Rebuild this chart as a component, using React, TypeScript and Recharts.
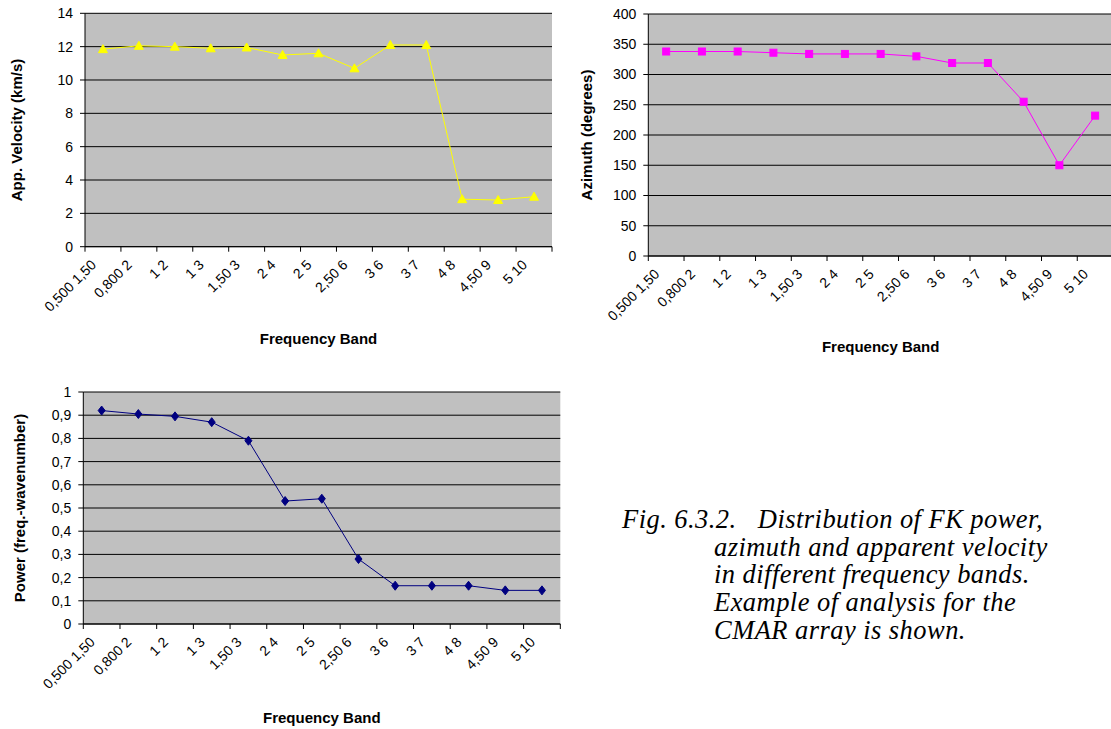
import React from "react";
import { CartesianGrid, Line, LineChart, XAxis, YAxis } from "recharts";

const bands = ["0,500 1,50", "0,800 2", "1 2", "1 3", "1,50 3", "2 4", "2 5", "2,50 6", "3 6", "3 7", "4 8", "4,50 9", "5 10"];
const velocity = [11.85, 12.05, 12.0, 11.9, 11.95, 11.5, 11.6, 10.7, 12.1, 12.1, 2.85, 2.8, 3.0];
const azimuth = [338, 338, 338, 336, 334, 334, 334, 330, 319, 319, 255, 150, 232];
const power = [0.92, 0.905, 0.895, 0.87, 0.79, 0.53, 0.54, 0.28, 0.165, 0.165, 0.165, 0.145, 0.145];

const velocityTicks = [0, 2, 4, 6, 8, 10, 12, 14];
const azimuthTicks = [0, 50, 100, 150, 200, 250, 300, 350, 400];
const powerTicks = [0, 0.1, 0.2, 0.3, 0.4, 0.5, 0.6, 0.7, 0.8, 0.9, 1];

const captionLines = [
  "Fig. 6.3.2.   Distribution of FK power,",
  "azimuth and apparent velocity",
  "in different frequency bands.",
  "Example of analysis for the",
  "CMAR array is shown.",
];

const data = bands.map((band, i) => ({ band, velocity: velocity[i], azimuth: azimuth[i], power: power[i] }));

const SANS = '"Liberation Sans", Arial, sans-serif';
const TICK_LEN = 5;

// category ticks sit on the band edges (Excel style), labels at band centres
function BandTick(props: any) {
  const { x, y, payload, index, band } = props;
  const axisY = y - TICK_LEN;
  return (
    <g>
      {index === 0 && <line x1={x - band / 2} y1={axisY} x2={x - band / 2} y2={axisY + TICK_LEN} stroke="#000" />}
      <line x1={x + band / 2} y1={axisY} x2={x + band / 2} y2={axisY + TICK_LEN} stroke="#000" />
      <text
        transform={`translate(${x - 6},${y + 14}) rotate(-45)`}
        textAnchor="end"
        fontSize={14}
        fontFamily={SANS}
        fill="#000"
      >
        {payload.value}
      </text>
    </g>
  );
}

function Marker({ cx, cy, shape, color }: any) {
  if (cx == null || cy == null) return null;
  if (shape === "triangle") {
    return <polygon points={`${cx},${cy - 4.5} ${cx + 4.5},${cy + 3.5} ${cx - 4.5},${cy + 3.5}`} fill={color} stroke={color} />;
  }
  if (shape === "square") {
    return <rect x={cx - 3.5} y={cy - 3.5} width={7} height={7} fill={color} stroke={color} />;
  }
  return <polygon points={`${cx},${cy - 4.5} ${cx + 3.5},${cy} ${cx},${cy + 4.5} ${cx - 3.5},${cy}`} fill={color} stroke={color} />;
}

type PanelProps = {
  w: number;
  h: number;
  plot: { l: number; t: number; r: number; b: number };
  dataKey: string;
  color: string;
  shape: string;
  ticks: number[];
  yLabel: string;
  yTitleX: number;
  xTitleBase: number;
  fmt?: (v: number) => string;
};

function Panel({ w, h, plot, dataKey, color, shape, ticks, yLabel, yTitleX, xTitleBase, fmt }: PanelProps) {
  const xh = 110;
  const band = (plot.r - plot.l) / bands.length;
  const margin = { top: plot.t, left: 0, right: w - plot.r, bottom: h - plot.b - xh };
  return (
    <LineChart width={w} height={h} data={data} margin={margin}>
      <CartesianGrid vertical={false} stroke="#000" fill="#c0c0c0" fillOpacity={1} />
      <XAxis
        dataKey="band"
        scale="point"
        interval={0}
        height={xh}
        padding={{ left: band / 2, right: band / 2 }}
        tickSize={TICK_LEN}
        tickMargin={0}
        tickLine={false}
        axisLine={{ stroke: "#000" }}
        tick={(p: any) => <BandTick {...p} band={band} />}
        label={{
          value: "Frequency Band",
          position: "insideBottom",
          offset: plot.b + xh - xTitleBase,
          style: { fontWeight: 700, fontSize: 15, fontFamily: SANS, fill: "#000" },
        }}
      />
      <XAxis xAxisId="top" dataKey="band" orientation="top" height={0} tick={false} tickLine={false} axisLine={{ stroke: "#808080" }} />
      <YAxis
        width={plot.l}
        domain={[ticks[0], ticks[ticks.length - 1]]}
        ticks={ticks}
        interval={0}
        tickSize={TICK_LEN}
        tickMargin={7}
        tickFormatter={fmt}
        tick={{ fontSize: 14, fontFamily: SANS, fill: "#000" }}
        tickLine={{ stroke: "#000" }}
        axisLine={{ stroke: "#000" }}
        label={{
          value: yLabel,
          angle: -90,
          position: "insideLeft",
          offset: yTitleX,
          style: { textAnchor: "middle", fontWeight: 700, fontSize: 15, fontFamily: SANS, fill: "#000" },
        }}
      />
      <YAxis yAxisId="right" orientation="right" width={0} tick={false} tickLine={false} axisLine={{ stroke: "#808080" }} />
      <Line
        type="linear"
        dataKey={dataKey}
        stroke={color}
        strokeWidth={1}
        isAnimationActive={false}
        activeDot={false}
        dot={(p: any) => <Marker key={p.index} cx={p.cx} cy={p.cy} shape={shape} color={color} />}
      />
    </LineChart>
  );
}

export default function App() {
  return (
    <div style={{ position: "fixed", left: 0, top: 0, width: 1111, height: 729, overflow: "hidden", background: "#fff" }}>
      <div style={{ position: "absolute", left: 0, top: 0 }}>
        <Panel
          w={560}
          h={360}
          plot={{ l: 85, t: 13.3, r: 552, b: 246.7 }}
          dataKey="velocity"
          color="#ffff00"
          shape="triangle"
          ticks={velocityTicks}
          yLabel="App. Velocity (km/s)"
          yTitleX={17}
          xTitleBase={344}
        />
      </div>
      <div style={{ position: "absolute", left: 560, top: 0 }}>
        <Panel
          w={560}
          h={360}
          plot={{ l: 88.3, t: 14, r: 553, b: 256 }}
          dataKey="azimuth"
          color="#ff00ff"
          shape="square"
          ticks={azimuthTicks}
          yLabel="Azimuth (degrees)"
          yTitleX={27}
          xTitleBase={351.5}
        />
      </div>
      <div style={{ position: "absolute", left: 0, top: 370 }}>
        <Panel
          w={580}
          h={359}
          plot={{ l: 83.3, t: 22, r: 560.3, b: 254 }}
          dataKey="power"
          color="#000080"
          shape="diamond"
          ticks={powerTicks}
          yLabel="Power (freq.-wavenumber)"
          yTitleX={20}
          xTitleBase={352.5}
          fmt={(v: number) => String(v).replace(".", ",")}
        />
      </div>
      <div
        style={{
          position: "absolute",
          left: 622,
          top: 506,
          fontFamily: '"Liberation Serif", "Times New Roman", serif',
          fontStyle: "italic",
          fontSize: 26.5,
          letterSpacing: 0.45,
          lineHeight: "27.7px",
          color: "#000",
          whiteSpace: "pre",
        }}
      >
        {captionLines.map((line, i) => (
          <div key={i} style={{ marginLeft: i === 0 ? 0 : 92 }}>
            {line}
          </div>
        ))}
      </div>
    </div>
  );
}
